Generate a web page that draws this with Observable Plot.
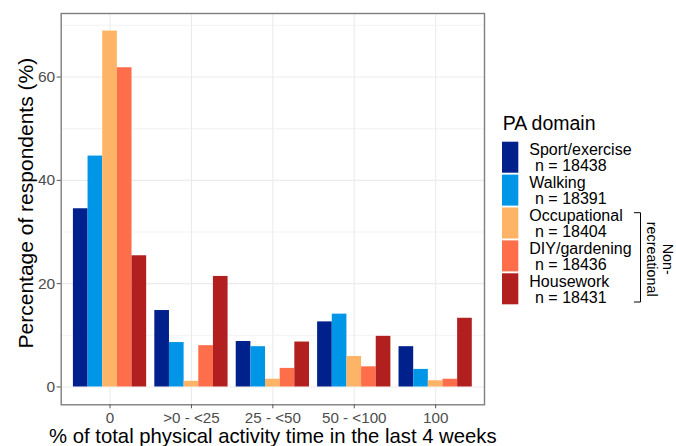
<!DOCTYPE html>
<html><head><meta charset="utf-8">
<script src="https://cdn.jsdelivr.net/npm/d3@7"></script>
<script src="https://cdn.jsdelivr.net/npm/@observablehq/plot@0.6"></script>
<style>
body{margin:0;background:#fff;font-family:"Liberation Sans",Arial,sans-serif}
</style></head><body><div id="chart"></div>
<script>
const categories = ["0", ">0 - <25", "25 - <50", "50 - <100", "100"];
const domains = ["Sport/exercise", "Walking", "Occupational", "DIY/gardening", "Housework"];
const nLabels = ["n = 18438", "n = 18391", "n = 18404", "n = 18436", "n = 18431"];
const colors = ["#00208C", "#0096E8", "#FEB466", "#FF6E4A", "#B21F1F"];
const sport = [34.5, 14.8, 8.8, 12.6, 7.8];
const walking = [44.7, 8.6, 7.8, 14.1, 3.4];
const occupational = [68.9, 1.1, 1.5, 5.9, 1.2];
const diy = [61.8, 8.0, 3.6, 3.9, 1.5];
const housework = [25.4, 21.4, 8.7, 9.8, 13.3];
const yTicks = [0, 20, 40, 60];
const yMinor = [10, 30, 50, 70];
const yTitle = "Percentage of respondents (%)";
const xTitle = "% of total physical activity time in the last 4 weeks";
const legendTitle = "PA domain";
const nonRecLabel = ["Non-", "recreational"];

const series = [sport, walking, occupational, diy, housework];
const dodge = 0.9, bw = dodge / domains.length;
const data = [];
categories.forEach((c, i) => domains.forEach((d, j) => {
  const x1 = i + 1 - dodge / 2 + j * bw;
  data.push({category: c, domain: d, value: series[j][i], x1, x2: x1 + bw});
}));
const xPos = categories.map((c, i) => i + 1);
const ff = "Liberation Sans, Arial, sans-serif";

const plot = Plot.plot({
  width: 676, height: 446,
  marginLeft: 60.7, marginRight: 192, marginTop: 13, marginBottom: 41.7,
  style: {fontFamily: ff, background: "#fff"},
  x: {domain: [0.4, 5.6]},
  y: {domain: [-3.45, 72.3]},
  color: {domain: domains, range: colors},
  marks: [
    Plot.gridY(yMinor, {stroke: "#EBEBEB", strokeOpacity: 1, strokeWidth: 0.6}),
    Plot.gridY(yTicks, {stroke: "#EBEBEB", strokeOpacity: 1, strokeWidth: 1.1}),
    Plot.gridX(xPos, {stroke: "#EBEBEB", strokeOpacity: 1, strokeWidth: 1.1}),
    Plot.rectY(data, {x1: "x1", x2: "x2", y1: 0, y2: "value", fill: "domain"}),
    Plot.frame({stroke: "#7F7F7F", strokeWidth: 1.4}),
    Plot.axisY(yTicks, {tickSize: 4, tickPadding: 2, fontSize: 15.5, fill: "#4D4D4D", stroke: "#555", label: null}),
    Plot.axisX(xPos, {tickSize: 4, tickPadding: 3, fontSize: 15.2, fill: "#4D4D4D", stroke: "#555", label: null, tickFormat: d => categories[d - 1]}),
    Plot.text([yTitle], {text: d => d, frameAnchor: "left", textAnchor: "middle", rotate: -90, dx: -35, dy: -6, fontSize: 21, fill: "#000"}),
    Plot.text([xTitle], {text: d => d, frameAnchor: "bottom", textAnchor: "middle", lineAnchor: "bottom", dy: 38, fontSize: 20.3, fill: "#000"})
  ]
});

const svg = d3.select(plot);
const colorScale = plot.scale("color");
const g = svg.append("g").attr("font-family", ff).attr("fill", "#000").attr("text-anchor", "start");
g.append("text").attr("x", 502.7).attr("y", 130).attr("font-size", 19.5).text(legendTitle);
domains.forEach((d, j) => {
  const y0 = 141.7 + j * 32.9;
  g.append("rect").attr("x", 502).attr("y", y0).attr("width", 16.3).attr("height", 31).attr("fill", colorScale.apply(d));
  g.append("text").attr("x", 529.3).attr("y", y0 + 13.4).attr("font-size", 16).text(d);
  g.append("text").attr("x", 535).attr("y", y0 + 29.6).attr("font-size", 16).text(nLabels[j]);
});
g.append("path").attr("d", "M634,212.7H640.5V302H634").attr("fill", "none").attr("stroke", "#000").attr("stroke-width", 1);
const nr = g.append("g").attr("transform", "translate(657.5,259.2) rotate(90)");
nonRecLabel.forEach((t, k) => {
  nr.append("text").attr("x", 0).attr("y", k === 0 ? -5.8 : 10.8)
    .attr("text-anchor", "middle").attr("font-size", 14.3).text(t);
});
document.getElementById("chart").appendChild(plot);
</script></body></html>
